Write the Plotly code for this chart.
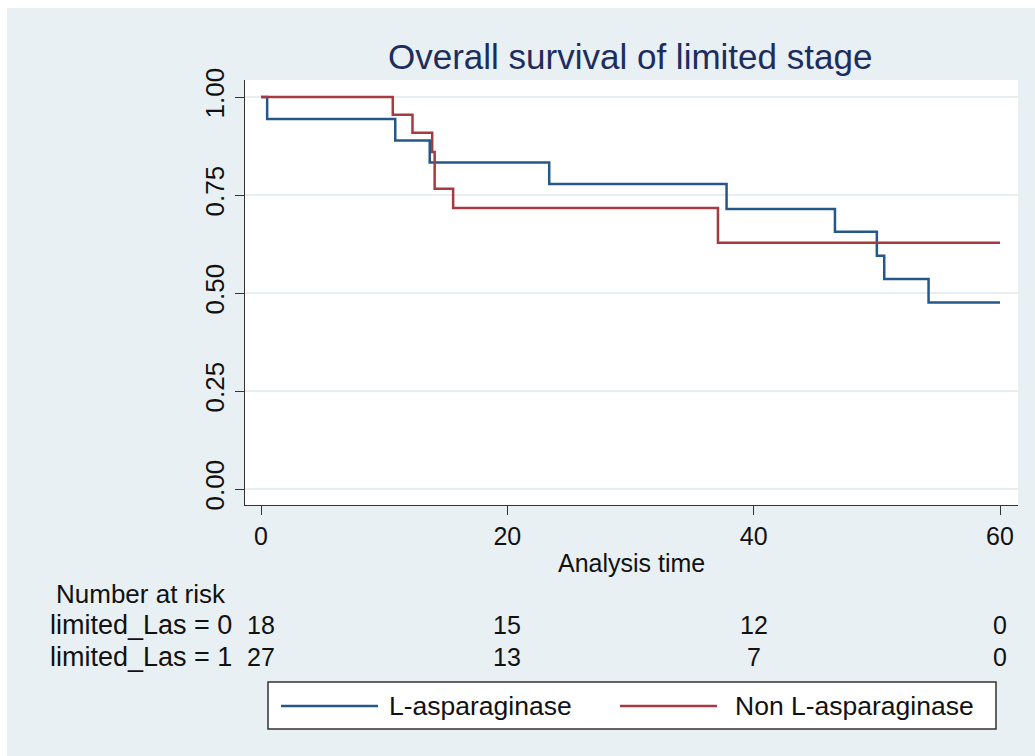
import plotly.graph_objects as go

# Kaplan-Meier step data
las_time = [0, 0.5, 10.9, 13.7, 23.4, 37.8, 46.6, 50.0, 50.6, 54.2, 60]
las_surv = [1.0, 0.944, 0.889, 0.833, 0.778, 0.714, 0.656, 0.595, 0.536, 0.476, 0.476]
non_time = [0, 10.7, 12.3, 13.9, 14.1, 15.6, 37.1, 60]
non_surv = [1.0, 0.955, 0.909, 0.860, 0.766, 0.717, 0.628, 0.628]

risk_times = [0, 20, 40, 60]
risk_row0 = [18, 15, 12, 0]
risk_row1 = [27, 13, 7, 0]
risk_labels = ["limited_Las = 0", "limited_Las = 1"]
series_names = ["L-asparaginase", "Non L-asparaginase"]
y_ticks = [0, 0.25, 0.5, 0.75, 1.0]
y_ticklabels = ["0.00", "0.25", "0.50", "0.75", "1.00"]
x_ticks = [0, 20, 40, 60]

BLUE = "#24588a"
RED = "#a63a40"
BG = "#e8f0f3"
GRID = "#e6eef1"
FONT = "Liberation Sans, Arial, sans-serif"

W, H = 1035, 756
L, R, T, B = 245, 17, 80, 251
pw, ph = W - L - R, H - T - B

def px(x):
    return (x - L) / pw

def py(y):
    return (H - B - y) / ph

fig = go.Figure()
fig.add_trace(go.Scatter(x=las_time, y=las_surv, mode="lines", line_shape="hv",
                         line=dict(color=BLUE, width=2.5), name=series_names[0]))
fig.add_trace(go.Scatter(x=non_time, y=non_surv, mode="lines", line_shape="hv",
                         line=dict(color=RED, width=2.5), name=series_names[1]))

ann = []
ann.append(dict(text="Overall survival of limited stage", x=px(630), y=py(57), xref="paper", yref="paper",
                showarrow=False, font=dict(size=35, color="#1c2d5e", family=FONT),
                xanchor="center", yanchor="middle"))
ann.append(dict(text="Analysis time", x=px(631), y=py(563), xref="paper", yref="paper",
                showarrow=False, font=dict(size=25, color="#111", family=FONT),
                xanchor="center", yanchor="middle"))
ann.append(dict(text="Number at risk", x=px(54), y=py(594), xref="paper", yref="paper",
                showarrow=False, font=dict(size=26, color="#111", family=FONT),
                xanchor="left", yanchor="middle"))
for lab, row, yy in zip(risk_labels, [risk_row0, risk_row1], [625, 657]):
    ann.append(dict(text=lab, x=px(234), y=py(yy), xref="paper", yref="paper",
                    showarrow=False, font=dict(size=27, color="#111", family=FONT),
                    xanchor="right", yanchor="middle"))
    for t, v in zip(risk_times, row):
        ann.append(dict(text=str(v), x=t, y=py(yy), xref="x", yref="paper",
                        showarrow=False, font=dict(size=25, color="#111", family=FONT),
                        xanchor="center", yanchor="middle"))

# legend (manual)
shapes = []
shapes.append(dict(type="rect", xref="paper", yref="paper", x0=px(268), x1=px(996),
                   y0=py(729), y1=py(682), fillcolor="white",
                   line=dict(color="#333", width=1.5), layer="above"))
shapes.append(dict(type="line", xref="paper", yref="paper", x0=px(281), x1=px(378),
                   y0=py(706), y1=py(706), line=dict(color=BLUE, width=2.5)))
shapes.append(dict(type="line", xref="paper", yref="paper", x0=px(620), x1=px(717),
                   y0=py(706), y1=py(706), line=dict(color=RED, width=2.5)))
ann.append(dict(text=series_names[0], x=px(387), y=py(706), xref="paper", yref="paper",
                showarrow=False, font=dict(size=26.5, color="#111", family=FONT),
                xanchor="left", yanchor="middle"))
ann.append(dict(text=series_names[1], x=px(733), y=py(706), xref="paper", yref="paper",
                showarrow=False, font=dict(size=26.5, color="#111", family=FONT),
                xanchor="left", yanchor="middle"))
# white outer strips
shapes.append(dict(type="rect", xref="paper", yref="paper", x0=px(0), x1=px(W),
                   y0=py(8), y1=py(0), fillcolor="white", line=dict(width=0), layer="above"))
shapes.append(dict(type="rect", xref="paper", yref="paper", x0=px(0), x1=px(7),
                   y0=py(H), y1=py(0), fillcolor="white", line=dict(width=0), layer="above"))

fig.update_layout(
    width=W, height=H,
    margin=dict(l=L, r=R, t=T, b=B),
    paper_bgcolor=BG, plot_bgcolor="white",
    showlegend=False,
    annotations=ann, shapes=shapes,
    font=dict(family=FONT, color="#111"),
)
x_lo = (L - 261) / 12.32
x_hi = 60 + (1018 - 1000) / 12.32
fig.update_xaxes(range=[x_lo, x_hi], tickvals=x_ticks, ticks="outside", ticklen=9,
                 tickwidth=1.3, tickcolor="#333", showline=True, linecolor="#333", linewidth=1.3,
                 showgrid=False, zeroline=False, tickfont=dict(size=25, family=FONT, color="#111"))
y_lo = -16 / 392
y_hi = 1 + 17 / 392
fig.update_yaxes(range=[y_lo, y_hi], tickvals=y_ticks, ticktext=y_ticklabels, tickangle=-90,
                 ticks="outside", ticklen=9, tickwidth=1.3, tickcolor="#333",
                 showline=True, linecolor="#333", linewidth=1.3,
                 showgrid=True, gridcolor=GRID, gridwidth=1.5, zeroline=False,
                 tickfont=dict(size=26, family=FONT, color="#111"))

fig.write_html("out.html")
